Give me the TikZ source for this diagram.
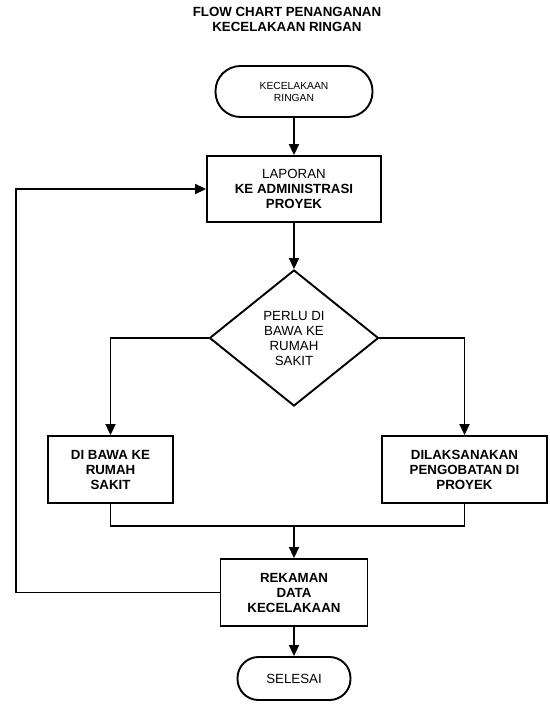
\documentclass[tikz,border=0pt]{standalone}
\usepackage{fontspec}
\setmainfont{Liberation Sans}
\usetikzlibrary{shapes.geometric,arrows.meta}
\tikzset{
  kotak/.style={draw,rectangle,align=center,inner sep=0pt,
    font=\fontsize{13.3}{15}\selectfont\bfseries},
  ujung/.style={draw,rectangle,align=center,inner sep=0pt},
  panah/.style={-{Triangle[width=10pt,length=11pt]}}
}
\begin{document}
\begin{tikzpicture}[x=1pt,y=-1pt,line width=1.9pt]
        \useasboundingbox (0,0) rectangle (549,709);
        \node[align=center,font=\fontsize{13.3}{15}\selectfont\bfseries] (judul) at (287,19)
          {FLOW CHART PENANGANAN\\KECELAKAAN RINGAN};
        \node[ujung,minimum width=157pt,minimum height=51pt,rounded corners=25pt,
          font=\fontsize{10.3}{12}\selectfont] (mulai) at (294,91.5) {KECELAKAAN\\RINGAN};
        \node[kotak,minimum width=174pt,minimum height=66pt] (lapor) at (294,189)
          {{\mdseries LAPORAN}\\KE ADMINISTRASI\\PROYEK};
        \node[draw,diamond,aspect=1.24,minimum width=169pt,minimum height=136pt,inner sep=0pt,
          align=center,font=\fontsize{13.3}{15}\selectfont] (cek) at (294,338)
          {PERLU DI\\BAWA KE\\RUMAH\\SAKIT};
        \node[kotak,minimum width=125pt,minimum height=67pt] (rs) at (110.5,469.5)
          {DI BAWA KE\\RUMAH\\SAKIT};
        \node[kotak,minimum width=165pt,minimum height=67pt] (obat) at (464.5,469.5)
          {DILAKSANAKAN\\PENGOBATAN DI\\PROYEK};
        \node[kotak,minimum width=147pt,minimum height=67pt] (rekam) at (294,592.5)
          {REKAMAN\\DATA\\KECELAKAAN};
        \node[ujung,minimum width=113pt,minimum height=43pt,rounded corners=21pt,
          font=\fontsize{13.3}{15}\selectfont] (selesai) at (294,678.5) {SELESAI};
        % garis penghubung
        \coordinate (gabung) at (294,526);
        \coordinate (kiri) at (16,592.5);
        \draw[panah] (mulai) -- (lapor);
        \draw[panah] (lapor) -- (cek);
        \draw[panah] (cek.west) -| (rs.north);
        \draw[panah] (cek.east) -| (obat.north);
        \draw (rs.south) |- (gabung) -| (obat.south);
        \draw[panah] (gabung) -- (rekam.north);
        \draw[panah] (rekam) -- (selesai);
        \draw[panah] (rekam.west) -- (kiri) |- (lapor.west);
      \end{tikzpicture}
\end{document}
